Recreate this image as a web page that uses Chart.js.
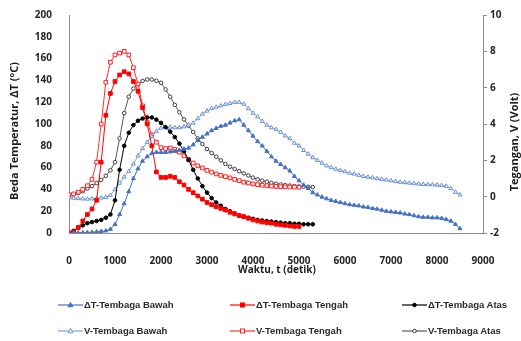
<!DOCTYPE html>
<html>
<head>
<meta charset="utf-8">
<script src="https://cdn.jsdelivr.net/npm/chart.js@4.4.1/dist/chart.umd.min.js"></script>
<style>
  html, body { margin: 0; padding: 0; background: #fff; }
  #wrap { position: relative; width: 521px; height: 341px; overflow: hidden; }
  #chart { position: absolute; left: 0; top: 0; }
  .leg { position: absolute; display: flex; align-items: center; font: bold 9.5px "Liberation Sans", sans-serif; color: #2a2a2a; white-space: nowrap; line-height: 12px; }
  .leg svg { display: block; margin-right: 1px; }
</style>
</head>
<body>
<div id="wrap">
  <canvas id="chart" width="521" height="341"></canvas>
  <div id="legend"></div>
</div>
<script>
// Sampling times in seconds (shared by every series)
const sampleTimes = [
  0, 100, 200, 300, 400, 500, 600, 700, 800, 900,
  1000, 1100, 1200, 1300, 1400, 1500, 1600, 1700, 1800, 1900,
  2000, 2100, 2200, 2300, 2400, 2500, 2600, 2700, 2800, 2900,
  3000, 3100, 3200, 3300, 3400, 3500, 3600, 3700, 3800, 3900,
  4000, 4100, 4200, 4300, 4400, 4500, 4600, 4700, 4800, 4900,
  5000, 5100, 5200, 5300, 5400, 5500, 5600, 5700, 5800, 5900,
  6000, 6100, 6200, 6300, 6400, 6500, 6600, 6700, 6800, 6900,
  7000, 7100, 7200, 7300, 7400, 7500, 7600, 7700, 7800, 7900,
  8000, 8100, 8200, 8300, 8400, 8500
];

// Temperature difference ΔT (°C), left axis
const dtBawah = [
  0, 0, 0.2, 0.3, 0.5, 0.7, 1, 1.5, 2, 3.5,
  8, 17, 27, 38, 50, 59, 66, 70, 73, 74,
  74, 74, 74.5, 75, 76, 77, 78, 81, 85, 88,
  91, 94, 96, 98, 99, 101, 103, 104, 99, 94,
  89, 84, 80, 75, 70, 66, 63, 60, 57, 52,
  48, 44, 41, 37, 35, 33, 31.5, 30, 29, 28,
  27, 26, 25.5, 25, 24, 23.5, 22.5, 22, 21, 20,
  19.5, 19, 18.5, 17.5, 17, 16, 15, 14.5, 14.5, 14,
  14, 13.5, 12.5, 11, 8, 4
];
const dtTengah = [
  0, 1, 5, 11, 17, 22, 30, 65, 108, 128,
  139, 145, 148, 146, 139, 130, 115, 100, 80, 56,
  51, 51, 52, 51, 47, 44, 40, 37, 34, 31,
  28, 26, 24, 22.5, 21, 19, 17.5, 16, 15, 13.5,
  12, 11, 10, 9.5, 9, 8, 7.5, 7, 6.5, 6,
  6
];
const dtAtas = [
  0, 2, 5, 7, 9, 10, 11, 12, 14, 17,
  30, 58, 80, 92, 99, 103, 105, 106, 106, 104,
  101, 97, 93, 88, 82, 75, 67, 58, 50, 43,
  37, 32, 28, 25, 22, 20, 18, 16, 15, 14,
  13, 12, 11.5, 11, 10.5, 10, 9.5, 9, 9, 8.5,
  8.5, 8, 8, 8
];

// Voltage V (Volt), right axis
const vBawah = [
  -0.05, -0.08, -0.1, -0.12, -0.13, -0.12, -0.1, -0.07, -0.03, 0.08,
  0.4, 0.75, 1.08, 1.4, 1.8, 2.25, 2.65, 3.0, 3.32, 3.6,
  3.78, 3.83, 3.83, 3.8, 3.8, 3.85, 3.95, 4.05, 4.3, 4.55,
  4.72, 4.85, 4.93, 5.0, 5.08, 5.13, 5.2, 5.2, 5.1, 4.85,
  4.6, 4.4, 4.15, 3.94, 3.8, 3.7, 3.55, 3.35, 3.2, 2.95,
  2.8, 2.55, 2.35, 2.15, 2.0, 1.85, 1.7, 1.6, 1.52, 1.45,
  1.38, 1.3, 1.25, 1.18, 1.12, 1.08, 1.04, 1.0, 0.96, 0.92,
  0.88, 0.84, 0.8, 0.78, 0.75, 0.72, 0.7, 0.68, 0.67, 0.66,
  0.64, 0.62, 0.58, 0.45, 0.25, 0.1
];
const vTengah = [
  0.1, 0.15, 0.25, 0.4, 0.6, 0.95, 1.9, 4.0, 6.3, 7.4,
  7.8, 7.9, 8.0, 7.8, 7.1, 6.2, 5.0, 4.1, 3.4, 3.0,
  2.7, 2.65, 2.68, 2.6, 2.45, 2.25, 2.05, 1.85, 1.7, 1.58,
  1.45, 1.35, 1.25, 1.17, 1.1, 1.03, 0.95, 0.88, 0.8, 0.75,
  0.7, 0.66, 0.63, 0.6, 0.58, 0.56, 0.55, 0.54, 0.53, 0.53,
  0.52
];
const vAtas = [
  0.05, 0.12, 0.2, 0.3, 0.45, 0.58, 0.75, 0.92, 1.15, 1.45,
  1.9, 3.2, 4.6, 5.5, 5.95, 6.2, 6.37, 6.45, 6.45, 6.38,
  6.27, 5.9, 5.5, 5.05, 4.65, 4.25, 3.9, 3.56, 3.2, 2.9,
  2.62, 2.4, 2.2, 2.0, 1.8, 1.65, 1.52, 1.4, 1.28, 1.17,
  1.05, 0.95, 0.88, 0.82, 0.76, 0.71, 0.67, 0.64, 0.61, 0.58,
  0.56, 0.55, 0.54, 0.53
];

// Axis ranges and labels
const xTicks = { min: 0, max: 9000, step: 1000 };
const tempTicks = { min: 0, max: 200, step: 20 };
const voltTicks = { min: -2, max: 10, step: 2 };
const xTitle = 'Waktu, t (detik)';
const tempTitle = 'Beda Temperatur, ΔT (°C)';
const voltTitle = 'Tegangan, V (Volt)';

const pairUp = vals => vals.map((v, i) => ({ x: sampleTimes[i], y: v }));

const seriesDefs = [
  { label: 'ΔT-Tembaga Bawah', values: dtBawah, axis: 'yT', line: '#4472C4', fill: '#4472C4', border: '#4472C4', shape: 'triangle', r: 2.3 },
  { label: 'ΔT-Tembaga Tengah', values: dtTengah, axis: 'yT', line: '#FF0000', fill: '#FF0000', border: '#FF0000', shape: 'rect', r: 2.6 },
  { label: 'ΔT-Tembaga Atas', values: dtAtas, axis: 'yT', line: '#000000', fill: '#000000', border: '#000000', shape: 'circle', r: 1.8 },
  { label: 'V-Tembaga Bawah', values: vBawah, axis: 'yV', line: '#7FA0D8', fill: '#ffffff', border: '#6A90D2', shape: 'triangle', r: 2.3 },
  { label: 'V-Tembaga Tengah', values: vTengah, axis: 'yV', line: '#FF3030', fill: '#ffffff', border: '#FF2020', shape: 'rect', r: 2.6 },
  { label: 'V-Tembaga Atas', values: vAtas, axis: 'yV', line: '#595959', fill: '#ffffff', border: '#404040', shape: 'circle', r: 1.8 }
];

const datasets = seriesDefs.map(s => ({
  label: s.label,
  data: pairUp(s.values),
  yAxisID: s.axis,
  borderColor: s.line,
  borderWidth: 1,
  pointStyle: s.shape,
  pointRadius: s.r,
  pointBorderWidth: 1,
  pointBackgroundColor: s.fill,
  pointBorderColor: s.border,
  tension: 0,
  fill: false
}));

const tickFont = { family: 'Open Sans', size: 10, weight: 'bold' };
const tickColor = '#262626';
const axisGrey = '#8c8c8c';

// Axis titles, drawn after the chart so they sit at fixed spots
const axisTitles = {
  id: 'axisTitles',
  afterDraw(c) {
    const g = c.ctx;
    const a = c.chartArea;
    g.save();
    g.fillStyle = '#1e1e1e';
    g.textAlign = 'center';
    g.textBaseline = 'middle';
    g.font = 'bold 10px "Open Sans"';
    g.fillText(xTitle, (a.left + a.right) / 2 + 1, 270);
    g.font = 'bold 11px "Open Sans"';
    g.save();
    g.translate(15, 131);
    g.rotate(-Math.PI / 2);
    g.fillText(tempTitle, 0, 0);
    g.restore();
    g.save();
    g.translate(515, 142);
    g.rotate(-Math.PI / 2);
    g.fillText(voltTitle, 0, 0);
    g.restore();
    g.restore();
  }
};

new Chart(document.getElementById('chart'), {
  type: 'line',
  data: { datasets },
  options: {
    responsive: false,
    animation: false,
    layout: { padding: { top: 15, left: 0, right: 0, bottom: 0 } },
    plugins: { legend: { display: false }, tooltip: { enabled: false } },
    scales: {
      x: {
        type: 'linear', min: xTicks.min, max: xTicks.max,
        ticks: { stepSize: xTicks.step, font: tickFont, color: tickColor, padding: 14, maxRotation: 0,
                 callback: v => String(v) },
        grid: { display: false },
        border: { display: true, color: axisGrey, width: 1 },
        afterFit(s) { s.height = 108; }
      },
      yT: {
        position: 'left', min: tempTicks.min, max: tempTicks.max,
        ticks: { stepSize: tempTicks.step, font: tickFont, color: tickColor, padding: 9 },
        grid: { display: false },
        border: { display: true, color: axisGrey, width: 1 },
        afterFit(s) { s.width = 69; }
      },
      yV: {
        position: 'right', min: voltTicks.min, max: voltTicks.max,
        ticks: { stepSize: voltTicks.step, font: tickFont, color: tickColor, padding: 3 },
        grid: { display: true, drawOnChartArea: false, drawTicks: true, tickLength: 4, color: axisGrey },
        border: { display: true, color: axisGrey, width: 1 },
        afterFit(s) { s.width = 38; }
      }
    }
  },
  plugins: [axisTitles]
});

// Legend: two rows of three entries
function markerSvg(s) {
  const cx = 12.5, cy = 5;
  let m = '';
  if (s.shape === 'triangle') {
    m = `<polygon points="${cx},${cy - 2.6} ${cx + 2.4},${cy + 1.8} ${cx - 2.4},${cy + 1.8}" fill="${s.fill}" stroke="${s.border}" stroke-width="1"/>`;
  } else if (s.shape === 'rect') {
    m = `<rect x="${cx - 2}" y="${cy - 2}" width="4" height="4" fill="${s.fill}" stroke="${s.border}" stroke-width="1"/>`;
  } else {
    m = `<circle cx="${cx}" cy="${cy}" r="1.8" fill="${s.fill}" stroke="${s.border}" stroke-width="1"/>`;
  }
  return `<svg width="25" height="10"><line x1="0" y1="5" x2="25" y2="5" stroke="${s.line}" stroke-width="1.2"/>${m}</svg>`;
}
const legendCols = [58, 230, 402];
const legendRows = [305, 331];
const legendEl = document.getElementById('legend');
seriesDefs.forEach((s, i) => {
  const d = document.createElement('div');
  d.className = 'leg';
  d.style.left = legendCols[i % 3] + 'px';
  d.style.top = (legendRows[Math.floor(i / 3)] - 6) + 'px';
  d.innerHTML = markerSvg(s) + '<span>' + s.label + '</span>';
  legendEl.appendChild(d);
});
</script>
</body>
</html>
